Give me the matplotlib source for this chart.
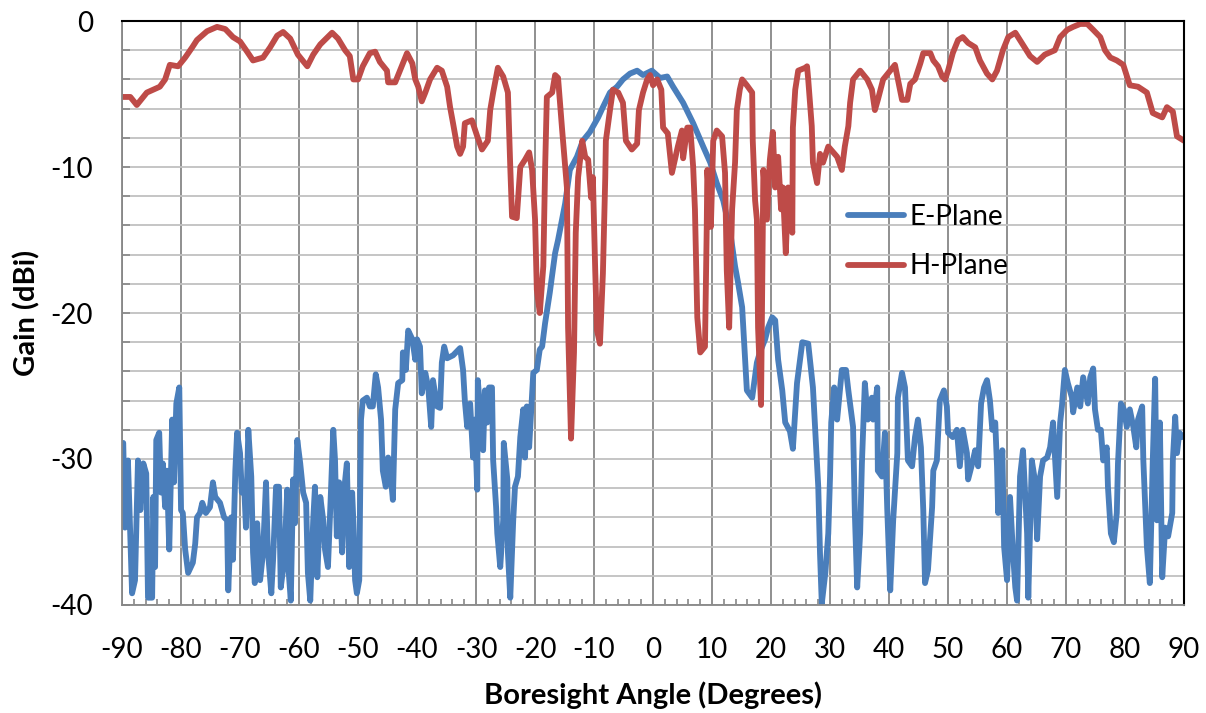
import matplotlib.pyplot as plt
from matplotlib.ticker import MultipleLocator

# E-Plane measurement (angle in degrees, gain in dBi)
e_angle = [-89.8, -89.5, -89.0, -88.3, -87.8, -87.3, -86.9, -86.4, -85.9, -85.6, -84.9, -84.7, -84.4, -84.2,
           -83.7, -83.4, -83.1, -82.7, -82.4, -82.0, -81.5, -81.2, -80.8, -80.3, -80.0, -79.7, -79.3, -78.8,
           -78.0, -77.6, -77.3, -76.8, -76.4, -75.8, -75.1, -74.6, -74.2, -73.4, -72.7, -72.2, -72.0, -71.5,
           -71.2, -70.8, -70.5, -70.0, -69.7, -69.3, -69.0, -68.6, -68.1, -67.8, -67.5, -67.1, -66.6, -66.1,
           -65.6, -65.3, -64.7, -64.4, -63.9, -63.4, -63.1, -62.5, -62.0, -61.9, -61.4, -61.0, -60.7, -60.3,
           -59.8, -59.3, -58.8, -58.5, -58.1, -57.6, -57.3, -56.9, -56.4, -55.9, -55.6, -55.1, -54.6, -54.2,
           -53.9, -53.6, -53.2, -52.7, -52.4, -51.9, -51.5, -51.0, -50.8, -50.5, -50.2, -49.8, -49.5, -49.2,
           -48.5, -48.0, -47.5, -47.0, -46.6, -46.1, -45.8, -45.3, -44.9, -44.4, -44.1, -43.7, -43.2, -42.5,
           -42.4, -41.9, -41.5, -40.8, -40.3, -40.0, -39.5, -39.2, -38.6, -38.1, -37.6, -37.3, -36.6, -36.1,
           -35.8, -35.4, -34.9, -33.9, -32.7, -32.2, -31.9, -31.5, -31.0, -30.5, -30.2, -29.8, -29.7, -29.2,
           -28.8, -28.5, -28.1, -27.8, -27.3, -27.1, -26.6, -26.4, -25.9, -25.4, -25.3, -24.7, -24.6, -24.2,
           -23.7, -23.4, -22.9, -22.5, -22.0, -21.7, -21.4, -21.0, -20.3, -19.7, -19.2, -18.8, -18.3, -17.5,
           -16.6, -16.1, -14.9, -14.1, -12.9, -11.9, -10.7, -9.3, -8.5, -7.3, -6.1, -5.1, -3.9, -2.7,
           -1.7, -0.2, 1.2, 2.4, 3.4, 5.1, 6.8, 8.5, 9.7, 10.8, 11.9, 13.1, 13.9, 14.4,
           15.1, 15.3, 15.6, 15.9, 16.8, 17.6, 18.1, 19.0, 19.5, 20.2, 20.7, 21.2, 21.9, 22.4,
           23.2, 23.7, 24.4, 25.3, 26.3, 27.1, 28.0, 28.3, 28.6, 29.2, 29.7, 30.0, 30.2, 30.7,
           31.2, 32.0, 32.7, 33.1, 33.9, 34.2, 34.6, 35.1, 35.4, 35.9, 36.4, 37.1, 37.3, 38.0,
           38.1, 38.8, 39.3, 39.7, 40.2, 40.7, 41.4, 41.5, 42.2, 42.7, 43.2, 43.9, 44.4, 44.9,
           45.4, 45.8, 46.1, 46.6, 47.3, 47.5, 48.1, 48.6, 49.3, 49.8, 50.0, 50.8, 51.5, 52.0,
           52.5, 53.2, 53.4, 54.1, 54.6, 55.1, 55.6, 56.1, 56.6, 57.1, 57.5, 58.0, 58.3, 58.5,
           59.2, 59.5, 60.0, 60.5, 61.0, 61.4, 61.7, 62.2, 62.7, 63.4, 63.6, 64.2, 64.7, 65.1,
           65.6, 66.1, 66.8, 67.3, 67.8, 68.5, 69.0, 69.3, 69.8, 70.3, 71.0, 71.2, 71.9, 72.4,
           72.9, 73.7, 74.1, 74.6, 74.9, 75.4, 75.9, 76.3, 76.9, 77.1, 77.6, 78.1, 78.6, 78.8,
           79.3, 79.8, 80.3, 80.8, 81.4, 81.9, 82.2, 82.9, 83.1, 83.7, 84.2, 84.7, 85.1, 85.4,
           85.9, 86.3, 86.8, 87.3, 88.0, 88.1, 88.5, 88.8, 89.2, 89.8]
e_gain = [-28.9, -34.7, -30.1, -39.2, -38.3, -30.1, -33.5, -30.3, -31.0, -39.5, -39.5, -32.6, -37.4, -28.7,
          -28.2, -32.3, -30.3, -33.3, -30.8, -36.2, -27.3, -31.6, -26.2, -25.1, -33.5, -33.7, -36.2, -37.8,
          -37.1, -35.8, -34.0, -33.7, -33.0, -33.7, -33.3, -31.6, -32.6, -33.0, -34.0, -34.2, -39.0, -34.0,
          -36.9, -30.8, -28.2, -29.6, -32.3, -31.9, -34.7, -28.0, -31.2, -36.4, -38.5, -34.4, -38.3, -36.4,
          -31.6, -36.2, -39.2, -36.9, -31.9, -31.9, -38.8, -36.9, -32.1, -36.9, -39.7, -31.4, -34.4, -28.7,
          -30.3, -32.3, -33.0, -37.8, -39.7, -34.2, -31.9, -38.1, -32.6, -34.2, -36.2, -37.4, -32.3, -28.0,
          -30.1, -35.3, -31.6, -36.4, -32.3, -30.3, -37.4, -32.3, -34.2, -38.3, -39.2, -38.3, -27.3, -26.0,
          -25.8, -26.4, -26.4, -24.2, -25.1, -27.3, -30.8, -31.9, -29.9, -31.4, -32.8, -26.6, -24.8, -24.6,
          -22.7, -23.9, -21.2, -21.8, -23.2, -21.8, -22.3, -25.5, -24.1, -25.1, -27.8, -24.6, -26.4, -26.5,
          -23.4, -22.3, -23.1, -22.9, -22.4, -23.9, -26.0, -27.8, -26.2, -29.9, -27.3, -32.1, -24.6, -27.3,
          -29.4, -25.3, -27.5, -25.1, -25.1, -30.1, -33.3, -35.1, -37.4, -34.2, -28.9, -31.4, -36.4, -39.5,
          -34.2, -31.9, -31.2, -28.5, -26.6, -29.9, -26.4, -29.2, -24.1, -23.9, -22.5, -22.3, -20.7, -18.6,
          -15.9, -15.0, -12.5, -10.2, -9.3, -8.2, -7.6, -6.6, -5.9, -4.9, -4.5, -4.0, -3.6, -3.4,
          -3.7, -3.4, -3.9, -3.8, -4.5, -5.6, -7.0, -8.6, -9.7, -11.1, -12.3, -14.5, -16.8, -17.9,
          -19.6, -21.0, -23.2, -25.3, -25.8, -23.4, -22.7, -21.8, -21.0, -20.3, -20.5, -23.2, -25.3, -27.5,
          -28.1, -29.3, -24.8, -22.0, -22.1, -25.1, -31.9, -36.5, -39.9, -37.8, -35.1, -31.2, -27.5, -25.1,
          -27.3, -23.9, -23.9, -25.3, -27.8, -33.7, -38.8, -35.1, -30.3, -24.8, -27.3, -25.8, -27.3, -25.1,
          -30.8, -31.2, -28.2, -33.5, -39.0, -34.2, -29.6, -25.8, -24.1, -25.1, -30.1, -30.5, -28.5, -27.3,
          -29.2, -33.5, -38.5, -37.6, -33.3, -30.8, -30.1, -26.0, -25.3, -26.4, -28.2, -28.5, -28.0, -30.5,
          -28.0, -29.6, -31.4, -30.3, -29.4, -30.5, -26.2, -25.1, -24.6, -26.0, -28.0, -27.5, -30.5, -33.7,
          -29.4, -36.0, -38.3, -32.6, -36.4, -38.8, -39.7, -31.2, -29.4, -35.1, -39.5, -30.1, -31.4, -35.5,
          -31.2, -30.1, -29.9, -29.2, -27.5, -32.6, -27.5, -26.4, -23.9, -24.8, -25.8, -26.8, -25.1, -26.4,
          -24.4, -26.2, -24.4, -23.8, -26.6, -28.0, -28.0, -30.1, -29.2, -31.9, -35.1, -35.7, -33.7, -30.3,
          -26.2, -26.6, -27.8, -26.6, -27.8, -29.2, -27.3, -26.4, -30.1, -36.0, -38.5, -30.1, -24.5, -34.2,
          -27.5, -38.1, -34.7, -35.3, -33.7, -30.1, -27.1, -29.6, -28.2, -28.5]

# H-Plane measurement
h_angle = [-90.0, -88.6, -87.5, -85.8, -83.6, -82.7, -81.9, -80.5, -79.3, -78.1, -77.3, -75.6, -73.9, -72.5,
           -71.2, -70.0, -68.8, -67.8, -66.1, -64.9, -63.7, -62.7, -61.5, -60.2, -58.6, -57.6, -56.4, -54.4,
           -53.4, -52.2, -51.4, -50.8, -50.0, -49.2, -48.0, -47.1, -46.3, -45.1, -44.9, -43.7, -42.9, -41.7,
           -40.8, -40.3, -39.8, -39.2, -38.6, -37.8, -36.6, -35.8, -34.9, -34.4, -33.9, -33.2, -32.7, -32.2,
           -31.9, -30.7, -29.8, -29.0, -28.0, -27.6, -27.1, -26.3, -25.4, -24.6, -24.2, -23.9, -23.1, -22.5,
           -21.7, -21.0, -20.5, -20.0, -19.7, -19.2, -18.6, -18.3, -18.0, -17.1, -16.6, -16.1, -15.4, -14.6,
           -14.4, -13.9, -13.4, -13.1, -12.7, -12.0, -11.5, -11.0, -10.5, -10.2, -9.8, -9.5, -9.0, -8.5,
           -8.1, -8.0, -7.3, -6.8, -5.9, -5.1, -4.6, -3.6, -2.7, -2.4, -1.7, -1.0, -0.5, 0.0,
           0.7, 1.4, 1.7, 2.5, 3.2, 3.7, 4.2, 4.9, 5.1, 5.8, 6.3, 6.8, 7.1, 7.5,
           8.0, 8.8, 9.1, 9.2, 9.8, 10.2, 10.8, 11.7, 12.2, 12.5, 12.9, 13.4, 13.9, 14.2,
           14.7, 15.1, 15.9, 16.8, 16.9, 17.3, 17.6, 17.8, 18.3, 18.6, 18.7, 19.3, 19.8, 20.3,
           20.7, 21.2, 21.7, 22.0, 22.5, 22.9, 23.6, 23.7, 24.1, 24.6, 25.8, 26.1, 26.3, 26.9,
           27.1, 27.8, 28.3, 28.8, 29.7, 31.2, 32.0, 32.5, 33.1, 33.4, 33.9, 35.1, 36.3, 37.1,
           37.6, 38.1, 39.0, 40.2, 41.0, 41.5, 42.2, 43.1, 43.6, 44.4, 45.3, 45.8, 47.0, 47.5,
           48.3, 49.0, 49.5, 50.0, 50.8, 51.7, 52.5, 53.4, 54.6, 55.4, 56.6, 57.5, 58.3, 59.3,
           60.2, 61.4, 62.5, 63.9, 65.1, 66.4, 68.1, 69.0, 70.2, 71.2, 72.4, 73.6, 74.6, 75.8,
           76.6, 77.5, 78.6, 79.7, 80.8, 82.2, 83.7, 84.7, 86.3, 87.1, 88.1, 88.8, 90.0]
h_gain = [-5.2, -5.2, -5.75, -4.9, -4.5, -4.0, -3.0, -3.1, -2.5, -1.8, -1.3, -0.7, -0.4, -0.55,
          -1.1, -1.4, -2.1, -2.7, -2.5, -1.8, -1.0, -0.75, -1.2, -2.3, -3.1, -2.3, -1.6, -0.8,
          -1.2, -2.0, -2.4, -4.0, -4.0, -3.1, -2.2, -2.1, -2.8, -3.4, -4.2, -4.2, -3.4, -2.2,
          -2.9, -4.0, -4.5, -5.5, -4.9, -4.0, -3.2, -3.4, -4.5, -5.9, -7.0, -8.6, -9.1, -8.6,
          -7.0, -6.8, -7.9, -8.8, -8.2, -6.1, -4.9, -3.2, -3.8, -4.9, -10.0, -13.4, -13.5, -10.0,
          -9.5, -9.0, -10.2, -13.6, -18.4, -20.0, -16.8, -10.2, -5.2, -4.9, -3.7, -3.9, -7.5, -11.4,
          -21.0, -28.6, -22.7, -14.5, -10.7, -8.2, -9.3, -9.5, -12.1, -10.7, -17.1, -21.2, -22.1, -17.3,
          -10.7, -8.2, -6.1, -4.7, -4.9, -5.6, -8.2, -8.8, -8.4, -6.1, -4.9, -4.0, -3.7, -4.4,
          -4.0, -4.7, -7.3, -7.7, -10.4, -9.5, -8.6, -7.5, -9.4, -7.3, -7.3, -10.0, -12.9, -20.3,
          -22.7, -22.3, -14.1, -10.2, -14.1, -8.2, -7.5, -7.9, -10.4, -17.1, -21.0, -12.9, -9.7, -6.1,
          -4.7, -4.0, -4.4, -4.9, -8.2, -12.3, -13.6, -21.0, -26.3, -14.1, -10.2, -13.6, -9.5, -7.6,
          -11.4, -9.3, -12.9, -11.4, -15.9, -11.4, -14.5, -7.3, -4.7, -3.4, -3.2, -3.1, -4.0, -7.2,
          -9.7, -11.1, -9.1, -9.7, -8.6, -9.3, -10.2, -8.6, -7.2, -5.6, -4.0, -3.4, -4.0, -4.7,
          -6.1, -5.4, -4.0, -3.4, -3.0, -4.0, -5.4, -5.4, -4.3, -4.0, -2.9, -2.2, -2.2, -2.7,
          -3.1, -3.8, -4.0, -3.4, -2.2, -1.3, -1.1, -1.5, -1.8, -2.7, -3.6, -4.0, -3.4, -2.0,
          -1.1, -0.8, -1.5, -2.4, -2.8, -2.3, -2.0, -1.1, -0.6, -0.4, -0.2, -0.2, -0.6, -1.1,
          -2.0, -2.5, -2.7, -3.0, -4.4, -4.5, -4.9, -6.3, -6.6, -5.9, -6.2, -7.9, -8.2]

plt.rcParams['font.family'] = ['Lato', 'DejaVu Sans']
plt.rcParams['axes.unicode_minus'] = False

fig = plt.figure(figsize=(12.06, 7.13), dpi=100)
ax = fig.add_axes([0.1012, 0.1515, 0.8806, 0.819])

ax.plot(e_angle, e_gain, color='#4A7EBB', linewidth=4.2, label='E-Plane',
        solid_joinstyle='round', solid_capstyle='round')
ax.plot(h_angle, h_gain, color='#BE4B48', linewidth=4.2, label='H-Plane',
        solid_joinstyle='round', solid_capstyle='round')

ax.set_xlim(-90, 90)
ax.set_ylim(-40, 0)
ax.xaxis.set_major_locator(MultipleLocator(10))
ax.xaxis.set_minor_locator(MultipleLocator(2))
ax.yaxis.set_major_locator(MultipleLocator(10))
ax.yaxis.set_minor_locator(MultipleLocator(2))

ax.grid(True, axis='x', which='major', color='#878787', linewidth=1.3)
ax.grid(True, axis='y', which='both', color='#C0C0C0', linewidth=1.3)
ax.set_axisbelow(True)

ax.tick_params(axis='x', which='major', length=0, labelsize=20, pad=23)
ax.tick_params(axis='x', which='minor', direction='in', length=4, width=1.2, color='#878787')
ax.tick_params(axis='y', which='both', direction='in', length=6, width=1.2, color='#878787')
ax.tick_params(axis='y', which='major', labelsize=20, pad=21)

for side in ['left', 'bottom']:
    ax.spines[side].set_color('#878787')
    ax.spines[side].set_linewidth(1.3)
for side in ['top', 'right']:
    ax.spines[side].set_color('black')
    ax.spines[side].set_linewidth(1.5)

ax.set_xlabel("Boresight Angle (Degrees)", fontsize=21, fontweight='bold')
ax.set_ylabel("Gain (dBi)", fontsize=21, fontweight='bold')
ax.xaxis.set_label_coords(0.5, -0.155)
ax.xaxis.label.set_va('center')
ax.yaxis.set_label_coords(-0.090, 0.5)
ax.yaxis.label.set_va('center')

ax.legend(loc='upper left', bbox_to_anchor=(0.66, 0.73), frameon=False, fontsize=20,
          handlelength=2.0, handletextpad=0.2, labelspacing=0.85)

plt.savefig("out.png", dpi=100)
